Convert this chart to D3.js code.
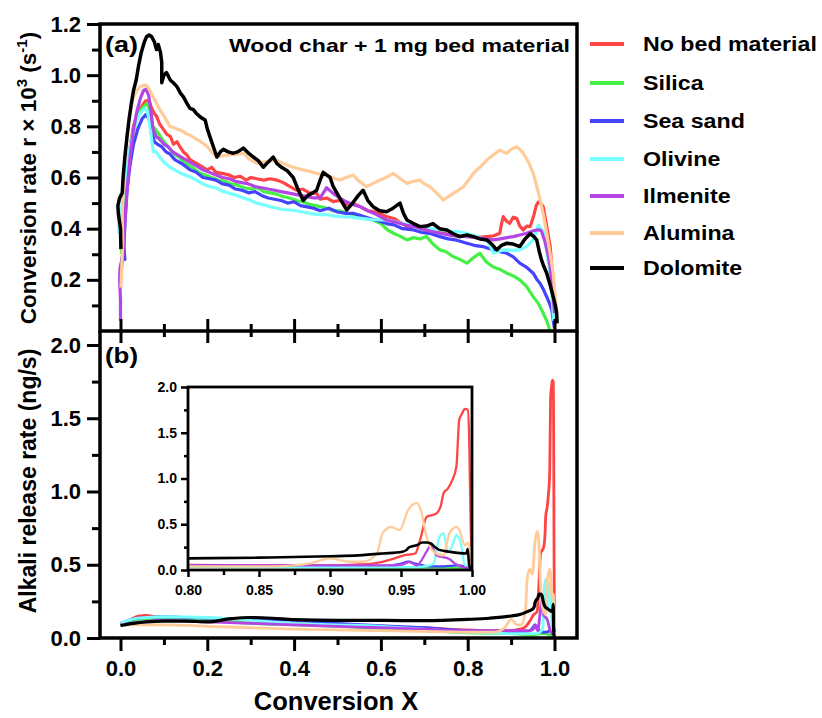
<!DOCTYPE html>
<html>
<head>
<meta charset="utf-8">
<script src="https://cdn.jsdelivr.net/npm/d3@7"></script>
<style>
  body { margin: 0; background: #fff; }
  text { font-family: "Liberation Sans", Arial, sans-serif; font-weight: bold; fill: #000; }
</style>
</head>
<body>
<script>
// conversion rate r x 10^3 (s^-1) vs conversion X, panel (a)
const rateNoBed = [[0.003,0.25],[0.006,0.33],[0.008,0.42],[0.006,0.47],[0.01,0.52],[0.015,0.62],[0.022,0.72],[0.03,0.80],[0.04,0.85],[0.05,0.88],[0.058,0.90],[0.066,0.90],[0.072,0.87],[0.078,0.85],[0.083,0.84],[0.09,0.81],[0.098,0.79],[0.106,0.77],[0.115,0.76],[0.122,0.73],[0.13,0.74],[0.137,0.72],[0.145,0.70],[0.152,0.69],[0.16,0.67],[0.17,0.66],[0.18,0.65],[0.19,0.64],[0.2,0.63],[0.21,0.64],[0.22,0.62],[0.237,0.615],[0.25,0.61],[0.262,0.60],[0.275,0.605],[0.29,0.59],[0.3,0.6],[0.314,0.595],[0.33,0.59],[0.345,0.595],[0.36,0.59],[0.375,0.58],[0.39,0.565],[0.406,0.55],[0.42,0.555],[0.435,0.54],[0.452,0.538],[0.46,0.515],[0.475,0.52],[0.49,0.506],[0.505,0.51],[0.52,0.495],[0.535,0.50],[0.552,0.486],[0.57,0.47],[0.59,0.465],[0.613,0.447],[0.63,0.44],[0.645,0.425],[0.66,0.408],[0.68,0.41],[0.7,0.395],[0.72,0.388],[0.74,0.385],[0.76,0.375],[0.782,0.369],[0.8,0.372],[0.82,0.365],[0.844,0.369],[0.86,0.372],[0.874,0.382],[0.878,0.42],[0.882,0.447],[0.889,0.43],[0.897,0.421],[0.905,0.445],[0.913,0.44],[0.92,0.41],[0.928,0.395],[0.936,0.41],[0.944,0.408],[0.952,0.45],[0.958,0.49],[0.963,0.505],[0.968,0.50],[0.974,0.486],[0.98,0.43],[0.985,0.38],[0.99,0.33],[0.994,0.25],[0.997,0.17],[1.0,0.08],[1.002,0.03]];
const rateSilica = [[0.002,0.30],[0.005,0.40],[0.003,0.46],[0.008,0.52],[0.014,0.60],[0.02,0.68],[0.028,0.76],[0.036,0.82],[0.045,0.86],[0.055,0.88],[0.062,0.89],[0.068,0.86],[0.074,0.80],[0.08,0.79],[0.088,0.77],[0.096,0.75],[0.105,0.73],[0.115,0.71],[0.125,0.69],[0.135,0.68],[0.145,0.66],[0.155,0.65],[0.165,0.64],[0.18,0.62],[0.195,0.61],[0.21,0.60],[0.225,0.59],[0.24,0.585],[0.255,0.575],[0.27,0.57],[0.285,0.56],[0.3,0.555],[0.315,0.56],[0.33,0.545],[0.345,0.54],[0.36,0.535],[0.375,0.525],[0.39,0.52],[0.405,0.51],[0.42,0.505],[0.435,0.495],[0.45,0.49],[0.46,0.486],[0.475,0.48],[0.49,0.47],[0.505,0.47],[0.521,0.46],[0.54,0.455],[0.56,0.44],[0.582,0.434],[0.6,0.42],[0.615,0.395],[0.629,0.382],[0.645,0.37],[0.66,0.356],[0.675,0.365],[0.69,0.36],[0.705,0.369],[0.72,0.34],[0.736,0.317],[0.75,0.31],[0.767,0.29],[0.782,0.28],[0.798,0.265],[0.812,0.285],[0.828,0.304],[0.843,0.27],[0.859,0.25],[0.875,0.24],[0.89,0.226],[0.905,0.215],[0.92,0.2],[0.935,0.175],[0.951,0.134],[0.962,0.11],[0.974,0.07],[0.982,0.04],[0.99,0.0]];
const rateSeaSand = [[0.0,0.25],[0.004,0.29],[0.01,0.28],[0.008,0.33],[0.01,0.42],[0.015,0.55],[0.022,0.65],[0.03,0.73],[0.04,0.79],[0.05,0.83],[0.058,0.845],[0.066,0.83],[0.072,0.78],[0.078,0.74],[0.085,0.73],[0.095,0.72],[0.105,0.70],[0.115,0.69],[0.125,0.67],[0.135,0.66],[0.145,0.65],[0.16,0.63],[0.175,0.62],[0.19,0.60],[0.205,0.595],[0.22,0.59],[0.235,0.575],[0.25,0.57],[0.265,0.555],[0.28,0.55],[0.295,0.54],[0.31,0.545],[0.325,0.53],[0.34,0.52],[0.355,0.515],[0.37,0.51],[0.385,0.50],[0.4,0.505],[0.415,0.49],[0.43,0.485],[0.445,0.48],[0.46,0.47],[0.48,0.48],[0.5,0.465],[0.52,0.46],[0.536,0.46],[0.555,0.45],[0.575,0.44],[0.595,0.43],[0.613,0.42],[0.63,0.415],[0.65,0.40],[0.675,0.395],[0.695,0.385],[0.715,0.38],[0.736,0.369],[0.755,0.36],[0.775,0.355],[0.798,0.343],[0.815,0.335],[0.835,0.33],[0.859,0.317],[0.875,0.31],[0.89,0.304],[0.905,0.29],[0.92,0.265],[0.935,0.25],[0.951,0.226],[0.96,0.2],[0.967,0.186],[0.975,0.16],[0.982,0.134],[0.988,0.11],[0.994,0.08],[0.998,0.03],[1.0,0.01]];
const rateOlivine = [[-0.003,0.38],[-0.004,0.42],[0.0,0.46],[0.006,0.52],[0.012,0.60],[0.02,0.70],[0.028,0.77],[0.036,0.82],[0.045,0.85],[0.055,0.87],[0.062,0.86],[0.068,0.80],[0.074,0.72],[0.076,0.70],[0.082,0.70],[0.09,0.68],[0.1,0.66],[0.114,0.64],[0.125,0.63],[0.135,0.62],[0.148,0.61],[0.16,0.603],[0.175,0.59],[0.19,0.575],[0.206,0.564],[0.22,0.56],[0.236,0.545],[0.252,0.538],[0.268,0.53],[0.283,0.52],[0.298,0.512],[0.313,0.50],[0.328,0.495],[0.344,0.486],[0.36,0.48],[0.375,0.475],[0.39,0.473],[0.405,0.47],[0.42,0.465],[0.436,0.46],[0.455,0.455],[0.475,0.455],[0.49,0.45],[0.506,0.447],[0.53,0.445],[0.555,0.44],[0.58,0.435],[0.613,0.434],[0.64,0.425],[0.665,0.415],[0.69,0.408],[0.715,0.40],[0.74,0.395],[0.76,0.39],[0.782,0.388],[0.8,0.38],[0.82,0.37],[0.844,0.356],[0.852,0.33],[0.859,0.304],[0.868,0.31],[0.878,0.315],[0.89,0.317],[0.905,0.315],[0.92,0.317],[0.935,0.33],[0.951,0.356],[0.958,0.39],[0.963,0.414],[0.968,0.40],[0.974,0.39],[0.98,0.33],[0.985,0.28],[0.99,0.226],[0.995,0.12],[0.998,0.04]];
const rateIlmenite = [[0.0,0.04],[0.0,0.12],[-0.002,0.2],[-0.001,0.25],[0.004,0.27],[0.007,0.32],[0.01,0.42],[0.015,0.55],[0.022,0.68],[0.03,0.79],[0.038,0.86],[0.046,0.91],[0.053,0.94],[0.059,0.945],[0.065,0.92],[0.07,0.86],[0.075,0.79],[0.082,0.76],[0.09,0.75],[0.1,0.73],[0.11,0.72],[0.12,0.70],[0.13,0.69],[0.14,0.68],[0.15,0.67],[0.16,0.66],[0.175,0.645],[0.19,0.63],[0.205,0.62],[0.22,0.61],[0.235,0.60],[0.25,0.595],[0.265,0.585],[0.28,0.58],[0.295,0.575],[0.31,0.565],[0.325,0.56],[0.34,0.555],[0.355,0.55],[0.37,0.545],[0.385,0.54],[0.4,0.535],[0.415,0.53],[0.43,0.525],[0.445,0.52],[0.46,0.52],[0.475,0.56],[0.49,0.538],[0.505,0.52],[0.52,0.505],[0.535,0.495],[0.552,0.486],[0.57,0.47],[0.59,0.455],[0.613,0.434],[0.635,0.425],[0.655,0.415],[0.675,0.408],[0.695,0.40],[0.715,0.39],[0.736,0.382],[0.76,0.375],[0.78,0.372],[0.798,0.369],[0.82,0.365],[0.84,0.36],[0.859,0.356],[0.875,0.36],[0.89,0.365],[0.905,0.369],[0.92,0.375],[0.936,0.382],[0.948,0.39],[0.959,0.395],[0.965,0.395],[0.97,0.39],[0.978,0.35],[0.985,0.30],[0.99,0.25],[0.995,0.17],[1.0,0.07]];
const rateAlumina = [[0.001,0.17],[0.003,0.25],[0.005,0.35],[0.004,0.45],[0.006,0.55],[0.009,0.65],[0.014,0.75],[0.02,0.84],[0.03,0.915],[0.038,0.94],[0.045,0.955],[0.052,0.96],[0.06,0.96],[0.068,0.94],[0.075,0.915],[0.083,0.89],[0.091,0.864],[0.1,0.84],[0.107,0.82],[0.114,0.80],[0.122,0.795],[0.13,0.79],[0.137,0.786],[0.145,0.78],[0.152,0.77],[0.16,0.766],[0.17,0.755],[0.18,0.745],[0.19,0.734],[0.2,0.72],[0.21,0.70],[0.222,0.68],[0.235,0.685],[0.252,0.688],[0.268,0.69],[0.283,0.695],[0.298,0.67],[0.314,0.655],[0.33,0.66],[0.345,0.665],[0.36,0.668],[0.375,0.655],[0.39,0.645],[0.406,0.636],[0.42,0.63],[0.435,0.625],[0.452,0.616],[0.468,0.61],[0.483,0.603],[0.495,0.595],[0.506,0.59],[0.52,0.60],[0.536,0.61],[0.55,0.585],[0.567,0.564],[0.58,0.575],[0.598,0.59],[0.612,0.60],[0.629,0.616],[0.645,0.595],[0.66,0.577],[0.675,0.585],[0.69,0.59],[0.7,0.575],[0.713,0.564],[0.728,0.54],[0.744,0.512],[0.755,0.525],[0.767,0.538],[0.778,0.55],[0.79,0.564],[0.8,0.585],[0.813,0.616],[0.828,0.64],[0.844,0.668],[0.86,0.69],[0.874,0.707],[0.882,0.70],[0.89,0.695],[0.9,0.71],[0.913,0.72],[0.92,0.71],[0.928,0.695],[0.94,0.66],[0.951,0.616],[0.96,0.56],[0.967,0.512],[0.975,0.45],[0.982,0.383],[0.99,0.30],[0.997,0.227],[1.002,0.12],[1.005,0.07]];
const rateDolomite = [[0.001,0.32],[0.0,0.40],[-0.005,0.46],[-0.006,0.49],[-0.002,0.52],[0.004,0.54],[0.006,0.60],[0.01,0.68],[0.015,0.76],[0.02,0.83],[0.025,0.89],[0.03,0.94],[0.036,0.98],[0.042,1.04],[0.048,1.09],[0.055,1.13],[0.06,1.15],[0.066,1.157],[0.072,1.15],[0.078,1.13],[0.083,1.10],[0.087,1.12],[0.092,1.09],[0.095,1.05],[0.095,0.97],[0.1,1.00],[0.106,1.01],[0.115,0.98],[0.122,0.97],[0.13,0.955],[0.138,0.93],[0.145,0.915],[0.153,0.89],[0.16,0.87],[0.168,0.865],[0.175,0.85],[0.185,0.835],[0.195,0.825],[0.2,0.79],[0.206,0.76],[0.214,0.72],[0.222,0.68],[0.23,0.70],[0.237,0.71],[0.248,0.70],[0.26,0.695],[0.27,0.70],[0.283,0.715],[0.295,0.695],[0.306,0.68],[0.318,0.665],[0.329,0.64],[0.34,0.66],[0.352,0.68],[0.36,0.655],[0.371,0.64],[0.385,0.625],[0.398,0.60],[0.41,0.55],[0.421,0.51],[0.432,0.53],[0.443,0.54],[0.452,0.55],[0.46,0.59],[0.467,0.62],[0.475,0.61],[0.483,0.60],[0.49,0.565],[0.505,0.52],[0.521,0.473],[0.535,0.50],[0.548,0.53],[0.559,0.55],[0.57,0.51],[0.582,0.486],[0.597,0.47],[0.613,0.466],[0.628,0.48],[0.644,0.50],[0.652,0.46],[0.66,0.434],[0.675,0.42],[0.69,0.408],[0.705,0.41],[0.72,0.42],[0.735,0.40],[0.752,0.395],[0.767,0.38],[0.782,0.369],[0.798,0.375],[0.813,0.369],[0.828,0.36],[0.844,0.356],[0.855,0.34],[0.867,0.317],[0.878,0.335],[0.89,0.343],[0.905,0.34],[0.92,0.33],[0.932,0.36],[0.944,0.38],[0.952,0.37],[0.959,0.356],[0.965,0.31],[0.97,0.278],[0.976,0.25],[0.982,0.226],[0.99,0.18],[0.997,0.134],[1.002,0.1],[1.005,0.07],[1.006,0.03]];

// alkali release rate (ng/s) vs conversion X, panel (b) and inset
const relNoBed = [[0.0,0.09],[0.02,0.12],[0.04,0.15],[0.06,0.155],[0.08,0.145],[0.1,0.14],[0.15,0.13],[0.2,0.12],[0.3,0.11],[0.4,0.10],[0.5,0.09],[0.6,0.08],[0.7,0.07],[0.8,0.055],[0.85,0.05],[0.9,0.05],[0.92,0.06],[0.93,0.07],[0.937,0.09],[0.942,0.11],[0.952,0.16],[0.96,0.18],[0.964,0.36],[0.968,0.58],[0.972,0.60],[0.975,0.62],[0.978,0.70],[0.98,0.84],[0.983,0.89],[0.986,0.98],[0.989,1.13],[0.991,1.64],[0.993,1.71],[0.995,1.76],[0.997,1.75],[0.998,1.45],[0.999,0.55],[1.0,0.04]];
const relSilica = [[0.0,0.09],[0.03,0.12],[0.06,0.13],[0.1,0.135],[0.2,0.12],[0.3,0.10],[0.4,0.09],[0.5,0.08],[0.6,0.065],[0.7,0.05],[0.8,0.035],[0.9,0.03],[0.95,0.02],[0.97,0.03],[0.98,0.03],[0.99,0.02],[1.0,0.02]];
const relSeaSand = [[0.0,0.10],[0.03,0.13],[0.06,0.14],[0.1,0.145],[0.15,0.14],[0.2,0.135],[0.3,0.13],[0.4,0.12],[0.5,0.10],[0.6,0.085],[0.7,0.07],[0.8,0.05],[0.9,0.04],[0.94,0.045],[0.95,0.07],[0.955,0.09],[0.96,0.07],[0.97,0.04],[0.98,0.04],[0.99,0.05],[0.995,0.04],[1.0,0.02]];
const relOlivine = [[0.0,0.10],[0.03,0.13],[0.06,0.14],[0.1,0.145],[0.2,0.14],[0.3,0.12],[0.4,0.10],[0.5,0.09],[0.6,0.08],[0.7,0.06],[0.8,0.04],[0.9,0.03],[0.96,0.03],[0.97,0.05],[0.973,0.07],[0.977,0.36],[0.98,0.40],[0.983,0.2],[0.986,0.26],[0.989,0.38],[0.992,0.3],[0.995,0.05],[1.0,0.02]];
const relIlmenite = [[0.0,0.09],[0.05,0.11],[0.1,0.12],[0.2,0.11],[0.3,0.10],[0.4,0.09],[0.5,0.08],[0.6,0.07],[0.7,0.06],[0.8,0.05],[0.9,0.05],[0.94,0.05],[0.951,0.06],[0.956,0.09],[0.961,0.05],[0.968,0.2],[0.971,0.27],[0.975,0.16],[0.984,0.12],[0.989,0.06],[0.994,0.03],[1.0,0.02]];
const relAlumina = [[0.0,0.09],[0.05,0.09],[0.1,0.09],[0.2,0.08],[0.3,0.07],[0.4,0.06],[0.5,0.055],[0.6,0.05],[0.7,0.045],[0.8,0.04],[0.86,0.04],[0.875,0.05],[0.886,0.073],[0.9,0.127],[0.914,0.09],[0.923,0.09],[0.933,0.18],[0.937,0.40],[0.943,0.47],[0.949,0.436],[0.955,0.655],[0.961,0.73],[0.964,0.655],[0.968,0.36],[0.973,0.2],[0.98,0.16],[0.984,0.4],[0.989,0.47],[0.991,0.44],[0.995,0.27],[0.997,0.3],[1.0,0.07]];
const relDolomite = [[0.0,0.085],[0.03,0.10],[0.06,0.11],[0.1,0.115],[0.15,0.115],[0.2,0.11],[0.25,0.13],[0.3,0.14],[0.35,0.135],[0.4,0.125],[0.5,0.12],[0.6,0.12],[0.7,0.118],[0.8,0.127],[0.85,0.135],[0.9,0.15],[0.92,0.16],[0.937,0.18],[0.951,0.2],[0.954,0.22],[0.955,0.24],[0.958,0.26],[0.961,0.27],[0.965,0.30],[0.968,0.3],[0.971,0.29],[0.974,0.25],[0.977,0.22],[0.984,0.2],[0.996,0.18],[0.997,0.23],[0.998,0.05],[1.0,0.0]];

const names = ["No bed material", "Silica", "Sea sand", "Olivine", "Ilmenite", "Alumina", "Dolomite"];
const colors = ["#ff4444", "#44f044", "#4444ff", "#77ffff", "#b444e4", "#ffcc99", "#000000"];
const rateData = [rateNoBed, rateSilica, rateSeaSand, rateOlivine, rateIlmenite, rateAlumina, rateDolomite];
const relData = [relNoBed, relSilica, relSeaSand, relOlivine, relIlmenite, relAlumina, relDolomite];

const xTicks = [0, 0.2, 0.4, 0.6, 0.8, 1.0];
const xMinor = [0.1, 0.3, 0.5, 0.7, 0.9];
const rateTicks = [0.2, 0.4, 0.6, 0.8, 1.0, 1.2];
const rateMinor = [0.1, 0.3, 0.5, 0.7, 0.9, 1.1];
const relTicks = [0, 0.5, 1.0, 1.5, 2.0];
const relMinor = [0.25, 0.75, 1.25, 1.75];
const insetXTicks = [0.80, 0.85, 0.90, 0.95, 1.00];
const insetXMinor = [0.825, 0.875, 0.925, 0.975];

const svg = d3.select("body").append("svg")
    .attr("width", 822)
    .attr("height", 718);

const x = d3.scaleLinear().domain([0, 1]).range([120.5, 554.5]);
const yTop = d3.scaleLinear().domain([0, 1.2]).range([331, 24]);
const yBot = d3.scaleLinear().domain([0, 2]).range([638, 345]);
const xIn = d3.scaleLinear().domain([0.8, 1]).range([188, 472]);
const yIn = d3.scaleLinear().domain([0, 2]).range([570, 387]);

function styleAxis(g, w, fs) {
  g.select(".domain").remove();
  g.selectAll(".tick line").attr("stroke", "#000").attr("stroke-width", w);
  g.selectAll(".tick text").attr("font-size", fs).attr("font-family", "Liberation Sans, Arial, sans-serif").attr("font-weight", "bold");
}

// ---- panel (a) ----
const lineTop = d3.line().x(d => x(d[0])).y(d => yTop(d[1]));
rateData.forEach(function(d, i) {
  svg.append("path")
    .attr("d", lineTop(d))
    .attr("fill", "none")
    .attr("stroke", colors[i])
    .attr("stroke-width", i == 6 ? 3.5 : 3.2)
    .attr("stroke-linejoin", "round");
});

svg.append("g").attr("transform", "translate(100,0)")
  .call(d3.axisLeft(yTop).tickValues(rateTicks).tickSize(13).tickPadding(6).tickFormat(d3.format(".1f")))
  .call(g => styleAxis(g, 3, 22));
svg.append("g").attr("transform", "translate(100,0)")
  .call(d3.axisLeft(yTop).tickValues(rateMinor).tickSize(8).tickFormat(""))
  .call(g => styleAxis(g, 3, 22));
// ticks crossing the shared line between the panels
svg.append("g").attr("transform", "translate(0,331)")
  .call(d3.axisTop(x).tickValues(xTicks).tickSize(12).tickFormat(""))
  .call(g => styleAxis(g, 3, 22));
svg.append("g").attr("transform", "translate(0,331)")
  .call(d3.axisBottom(x).tickValues(xTicks).tickSize(12).tickFormat(""))
  .call(g => styleAxis(g, 3, 22));
svg.append("g").attr("transform", "translate(0,331)")
  .call(d3.axisTop(x).tickValues(xMinor).tickSize(7).tickFormat(""))
  .call(g => styleAxis(g, 3, 22));
svg.append("g").attr("transform", "translate(0,331)")
  .call(d3.axisBottom(x).tickValues(xMinor).tickSize(6).tickFormat(""))
  .call(g => styleAxis(g, 3, 22));

svg.append("rect")
  .attr("x", 100).attr("y", 24).attr("width", 477).attr("height", 307)
  .attr("fill", "none").attr("stroke", "#000").attr("stroke-width", 3.5);

svg.append("text").attr("x", 105).attr("y", 52).attr("font-size", 22)
  .attr("textLength", 33).attr("lengthAdjust", "spacingAndGlyphs").text("(a)");
svg.append("text").attr("x", 229).attr("y", 52).attr("font-size", 19)
  .attr("textLength", 341).attr("lengthAdjust", "spacingAndGlyphs").text("Wood char + 1 mg bed material");

const yt1 = svg.append("text")
  .attr("transform", "translate(36,178) rotate(-90)")
  .attr("text-anchor", "middle").attr("font-size", 22.5);
yt1.append("tspan").text("Conversion rate r \u00d7 10");
yt1.append("tspan").attr("dy", -9).attr("font-size", 15).text("3");
yt1.append("tspan").attr("dy", 9).text(" (s");
yt1.append("tspan").attr("dy", -9).attr("font-size", 15).text("-1");
yt1.append("tspan").attr("dy", 9).text(")");

// ---- panel (b) ----
const lineBot = d3.line().x(d => x(d[0])).y(d => yBot(d[1])).curve(d3.curveMonotoneX);
relData.forEach(function(d, i) {
  svg.append("path")
    .attr("d", lineBot(d))
    .attr("fill", "none")
    .attr("stroke", colors[i])
    .attr("stroke-width", i == 6 ? 3.2 : 2.8)
    .attr("stroke-linejoin", "round");
});

svg.append("g").attr("transform", "translate(100,0)")
  .call(d3.axisLeft(yBot).tickValues(relTicks).tickSize(13).tickPadding(6).tickFormat(d3.format(".1f")))
  .call(g => styleAxis(g, 3, 22));
svg.append("g").attr("transform", "translate(100,0)")
  .call(d3.axisLeft(yBot).tickValues(relMinor).tickSize(8).tickFormat(""))
  .call(g => styleAxis(g, 3, 22));
svg.append("g").attr("transform", "translate(0,638)")
  .call(d3.axisBottom(x).tickValues(xTicks).tickSize(13).tickPadding(9).tickFormat(d3.format(".1f")))
  .call(g => styleAxis(g, 3, 22));
svg.append("g").attr("transform", "translate(0,638)")
  .call(d3.axisBottom(x).tickValues(xMinor).tickSize(7).tickFormat(""))
  .call(g => styleAxis(g, 3, 22));

svg.append("path")
  .attr("d", "M100,331V638H577V331")
  .attr("fill", "none").attr("stroke", "#000").attr("stroke-width", 3.5);

svg.append("text").attr("x", 105).attr("y", 363).attr("font-size", 22)
  .attr("textLength", 33).attr("lengthAdjust", "spacingAndGlyphs").text("(b)");

svg.append("text")
  .attr("transform", "translate(36,481) rotate(-90)")
  .attr("text-anchor", "middle").attr("font-size", 23)
  .text("Alkali release rate (ng/s)");

svg.append("text").attr("x", 336).attr("y", 710)
  .attr("text-anchor", "middle").attr("font-size", 25.5)
  .text("Conversion X");

// ---- inset ----
svg.append("rect")
  .attr("x", xIn(0.8)).attr("y", yIn(2)).attr("width", xIn(1) - xIn(0.8)).attr("height", yIn(0) - yIn(2))
  .attr("fill", "#fff");
svg.append("clipPath").attr("id", "inclip").append("rect")
  .attr("x", xIn(0.8)).attr("y", yIn(2) - 2).attr("width", xIn(1) - xIn(0.8)).attr("height", yIn(0) - yIn(2) + 2);
const lineIn = d3.line().x(d => xIn(d[0])).y(d => yIn(d[1])).curve(d3.curveMonotoneX);
relData.forEach(function(d, i) {
  svg.append("path")
    .attr("clip-path", "url(#inclip)")
    .attr("d", lineIn(d.filter(p => p[0] >= 0.7)))
    .attr("fill", "none")
    .attr("stroke", colors[i])
    .attr("stroke-width", i == 6 ? 2.6 : 2.3)
    .attr("stroke-linejoin", "round");
});
svg.append("g").attr("transform", "translate(" + xIn(0.8) + ",0)")
  .call(d3.axisLeft(yIn).tickValues(relTicks).tickSize(7).tickPadding(4).tickFormat(d3.format(".1f")))
  .call(g => styleAxis(g, 2.5, 14));
svg.append("g").attr("transform", "translate(" + xIn(0.8) + ",0)")
  .call(d3.axisLeft(yIn).tickValues(relMinor).tickSize(4).tickFormat(""))
  .call(g => styleAxis(g, 2.5, 14));
svg.append("g").attr("transform", "translate(0," + yIn(0) + ")")
  .call(d3.axisBottom(xIn).tickValues(insetXTicks).tickSize(7).tickPadding(8).tickFormat(d3.format(".2f")))
  .call(g => styleAxis(g, 2.5, 14));
svg.append("g").attr("transform", "translate(0," + yIn(0) + ")")
  .call(d3.axisBottom(xIn).tickValues(insetXMinor).tickSize(5).tickFormat(""))
  .call(g => styleAxis(g, 2.5, 14));
svg.append("rect")
  .attr("x", xIn(0.8)).attr("y", yIn(2)).attr("width", xIn(1) - xIn(0.8)).attr("height", yIn(0) - yIn(2))
  .attr("fill", "none").attr("stroke", "#000").attr("stroke-width", 2.8);

// ---- legend ----
const legendY = [44, 83, 121, 159, 196, 233, 268];
names.forEach(function(n, i) {
  svg.append("line")
    .attr("x1", 590).attr("x2", 624)
    .attr("y1", legendY[i]).attr("y2", legendY[i])
    .attr("stroke", colors[i]).attr("stroke-width", 4);
  svg.append("text")
    .attr("transform", "translate(643," + (legendY[i] + 7) + ") scale(1.16,1)")
    .attr("font-size", 20)
    .text(n);
});
</script>
</body>
</html>
